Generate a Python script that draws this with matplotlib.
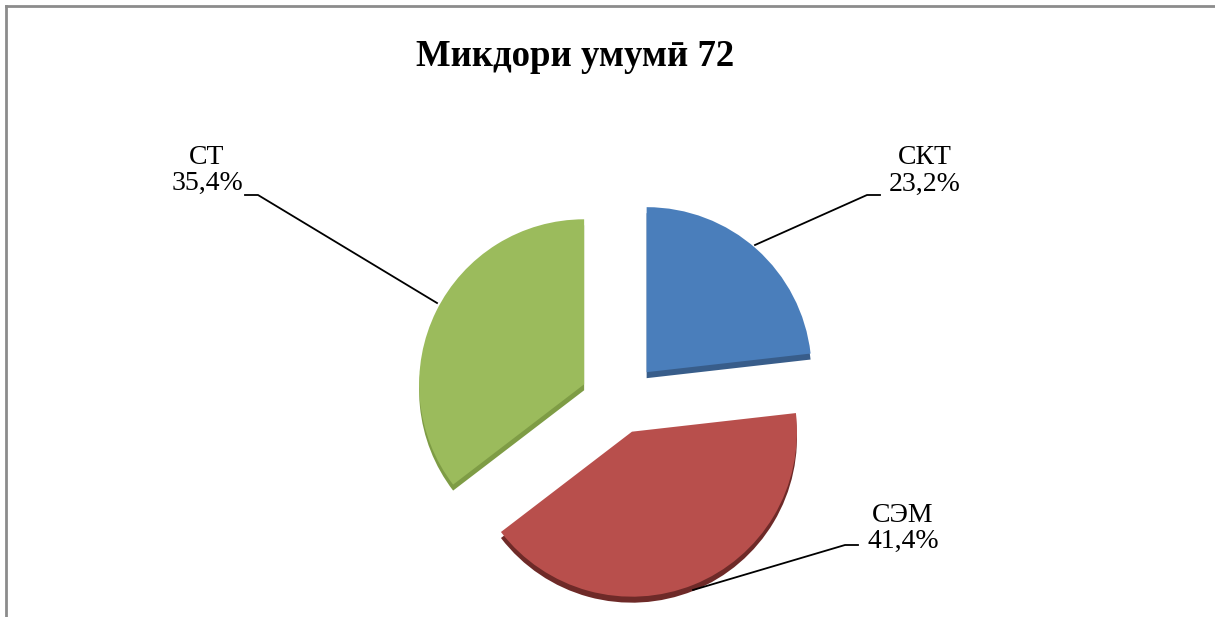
import matplotlib.pyplot as plt
from matplotlib.lines import Line2D

# Chart data
labels = ["СКТ", "СЭМ", "СТ"]
values = [23.2, 41.4, 35.4]
pct_labels = ["23,2%", "41,4%", "35,4%"]
title = "Микдори умумӣ 72"

colors = ["#4A7EBB", "#B84F4C", "#9BBB5C"]
side_colors = ["#385D8A", "#6E2A28", "#7E9C45"]

W, H = 1215, 617
fig = plt.figure(figsize=(W / 100, H / 100), dpi=100)
ax = fig.add_axes([0, 0, 1, 1])

# pie centre and radius in pixel units (y measured from bottom)
cx, cy = 620, H - 402
radius = 165
# explode is in data units (pixels here), not a fraction of the radius
explode = [40, 32, 40]
depth = 6

# darker copy underneath gives the thin 3D side
ax.pie(values, colors=side_colors, startangle=90, counterclock=False,
       explode=explode, radius=radius, center=(cx, cy - depth), frame=True,
       wedgeprops=dict(linewidth=0))
ax.pie(values, colors=colors, startangle=90, counterclock=False,
       explode=explode, radius=radius, center=(cx, cy), frame=True,
       wedgeprops=dict(linewidth=0))

ax.set_xlim(0, W)
ax.set_ylim(0, H)
ax.set_aspect("auto")
ax.axis("off")

serif = ["Liberation Serif", "DejaVu Serif"]

ax.text(575, H - 57, title, ha="center", va="center", fontsize=26.5,
        fontweight="bold", family=serif)

# label positions (name centre, percent centre) and leader lines
label_pos = [(925, 158, 184), (903, 516, 541), (207, 158, 183)]
leaders = [
    [(880, 195), (867, 195), (755, 245)],
    [(858, 545), (845, 545), (693, 590)],
    [(245, 195), (258, 195), (437, 303)],
]
for i in range(len(labels)):
    x, y1, y2 = label_pos[i]
    ax.text(x, H - y1, labels[i], ha="center", va="center", fontsize=20, family=serif)
    ax.text(x, H - y2, pct_labels[i], ha="center", va="center", fontsize=20, family=serif)
    xs = [p[0] for p in leaders[i]]
    ys = [H - p[1] for p in leaders[i]]
    ax.plot(xs, ys, color="black", linewidth=1.3)

# chart frame (only top and left edges visible)
fig.add_artist(Line2D([6 / W, 1], [1 - 6 / H, 1 - 6 / H], color="#8C8C8C", linewidth=2))
fig.add_artist(Line2D([6 / W, 6 / W], [0, 1 - 6 / H], color="#8C8C8C", linewidth=2))

fig.savefig("out.png", dpi=100)
